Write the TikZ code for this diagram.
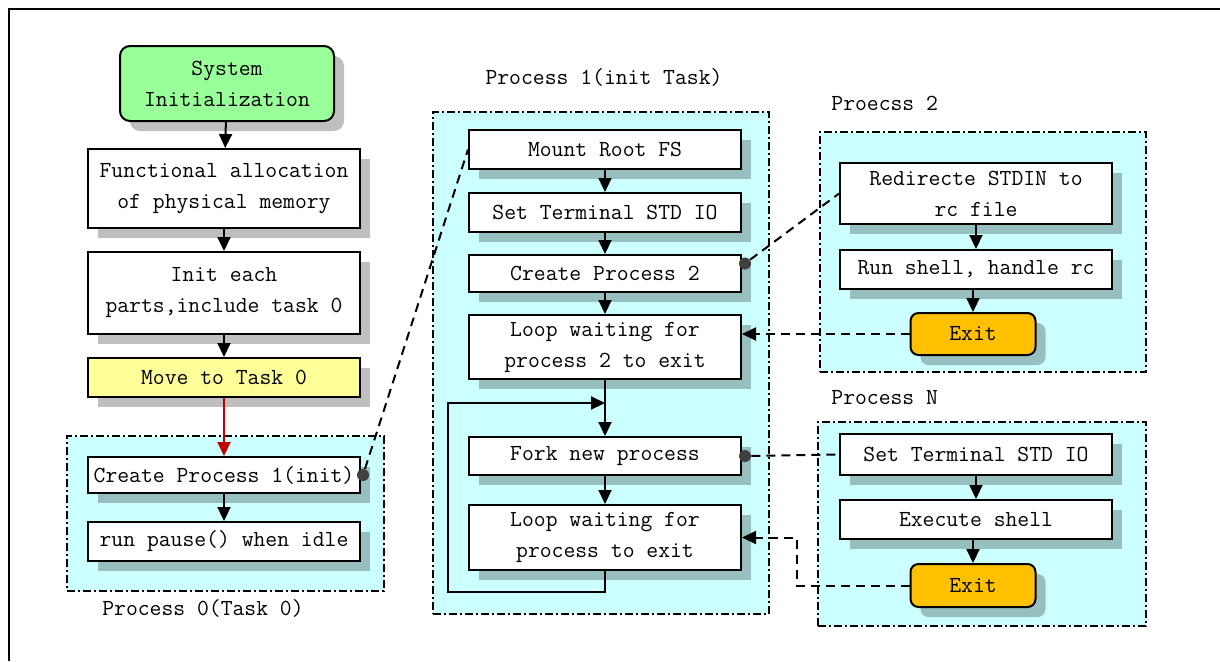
\documentclass[tikz,border=0pt]{standalone}
\usetikzlibrary{arrows.meta, positioning, calc, shadows}
\definecolor{bootgreen}{HTML}{99FF99}
\definecolor{bootyellow}{HTML}{FFFF99}
\definecolor{bootcyan}{HTML}{CCFFFF}
\definecolor{bootorange}{HTML}{FFC000}
\definecolor{bootred}{HTML}{C00000}
\definecolor{bootdot}{HTML}{404040}
\begin{document}
\begin{tikzpicture}[
  x=0.5pt, y=-0.5pt,
  font=\ttfamily\fontsize{11.5}{15.5}\selectfont,
  stepbox/.style={
    rectangle, draw=black, line width=1pt, fill=white,
    minimum width=136pt, minimum height=#1, inner sep=1pt, align=center,
    drop shadow={shadow xshift=5pt, shadow yshift=-5pt, fill=black, opacity=0.25}
  },
  stepbox/.default=19.5pt,
  endbox/.style={
    stepbox=#1, rounded corners=4pt, minimum width=62.5pt, fill=bootorange
  },
  endbox/.default=21pt,
  groupbox/.style 2 args={
    rectangle, anchor=north west, fill=bootcyan, draw=black, line width=0.8pt,
    dash pattern=on 4pt off 1.5pt on 1pt off 1.5pt,
    minimum width=#1, minimum height=#2, inner sep=0pt
  },
  grouplabel/.style={inner sep=0pt},
  dot/.style={circle, fill=bootdot, minimum size=6pt, inner sep=0pt},
  arr/.style={-{Triangle[length=7pt, width=6.5pt]}, line width=1pt},
  link/.style={line width=1pt, dash pattern=on 4.5pt off 3pt}
]
  \useasboundingbox (0,0) rectangle (1220,661);
  \draw[line width=1pt] (9,661) -- (9,9) -- (1220,9);

  % process containers
  \node[groupbox={158.5pt}{77.5pt}] (p0) at (66,435) {};
  \node[groupbox={168pt}{251pt}] (p1) at (432,111) {};
  \node[groupbox={163pt}{120pt}] (p2) at (819,131) {};
  \node[groupbox={164pt}{102pt}] (pn) at (817,421) {};

  \node[grouplabel] (p0label) at (203,608) {Process 0(Task 0)};
  \node[grouplabel] (p1label) at (604,77) {Process 1(init Task)};
  \node[grouplabel, anchor=west] (p2label) at (831,103) {Proecss 2};
  \node[grouplabel, anchor=west] (pnlabel) at (831,398) {Process N};

  % kernel side
  \node[stepbox, rounded corners=5pt, minimum width=107pt, minimum height=37.5pt, fill=bootgreen]
    (sysinit) at (227,83.5) {System\\Initialization};
  \node[stepbox=39.5pt] (alloc) at (224,188.5) {Functional allocation\\of physical memory};
  \node[stepbox=41pt] (parts) at (224,293) {Init each\\parts,include task 0};
  \node[stepbox, fill=bootyellow] (move) at (224,377.5) {Move to Task 0};
  \node[stepbox=18pt] (create1) at (224,475) {Create Process 1(init)};
  \node[stepbox] (idle) at (224,541.5) {run pause() when idle};

  \draw[arr] (sysinit) -- (alloc);
  \draw[arr] (alloc) -- (parts);
  \draw[arr] (parts) -- (move);
  \draw[arr, bootred] (move) -- (create1);
  \draw[arr] (create1) -- (idle);

  % init task
  \node[stepbox] (mount) at (605,149.5) {Mount Root FS};
  \node[stepbox] (stdio) at (605,212.5) {Set Terminal STD IO};
  \node[stepbox=18.5pt] (create2) at (605,273.5) {Create Process 2};
  \node[stepbox=32pt] (wait2) at (605,347) {Loop waiting for\\process 2 to exit};
  \node[stepbox=19pt] (fork) at (605,456) {Fork new process};
  \node[stepbox=32.5pt] (waitn) at (605,537.5) {Loop waiting for\\process to exit};

  \draw[arr] (mount) -- (stdio);
  \draw[arr] (stdio) -- (create2);
  \draw[arr] (create2) -- (wait2);
  \draw[arr] (wait2) -- (fork);

  % fork loop
  \coordinate (loopin) at (605,403);
  \draw[arr] (waitn.south) -- ++(0,21) -- ++(-157,0) |- (loopin);
  \draw[arr] (fork) -- (waitn);

  % process 2
  \node[stepbox=30.5pt] (redirect) at (976,193.5) {Redirecte STDIN to\\rc file};
  \node[stepbox] (shell2) at (976,269.5) {Run shell, handle rc};
  \node[endbox] (exit2) at (973,334) {Exit};

  \draw[arr] (redirect) -- (shell2);
  \draw[arr] (shell2.south -| exit2.north) -- (exit2);

  % process N
  \node[stepbox=20.5pt] (stdion) at (976,454.5) {Set Terminal STD IO};
  \node[stepbox] (execsh) at (976,519.5) {Execute shell};
  \node[endbox=21.5pt] (exitn) at (973,585.5) {Exit};

  \draw[arr] (stdion) -- (execsh);
  \draw[arr] (execsh.south -| exitn.north) -- (exitn);

  % spawn links
  \node[dot] (d1) at ($(create1.east)+(2,0)$) {};
  \node[dot] (d2) at ($(create2.east)+(3,-10)$) {};
  \node[dot] (d3) at ($(fork.east)+(3,0)$) {};

  \draw[link] (d1) -- (mount.west);
  \draw[link] (d2) -- (redirect.west);
  \draw[link] (d3) -- (stdion.west);

  % exit notifications
  \draw[link, arr] (exit2.west) -- (exit2.west -| wait2.east);
  \draw[link, arr] (exitn.west) -- ++(-113,0) |- (waitn.east);
\end{tikzpicture}
\end{document}
